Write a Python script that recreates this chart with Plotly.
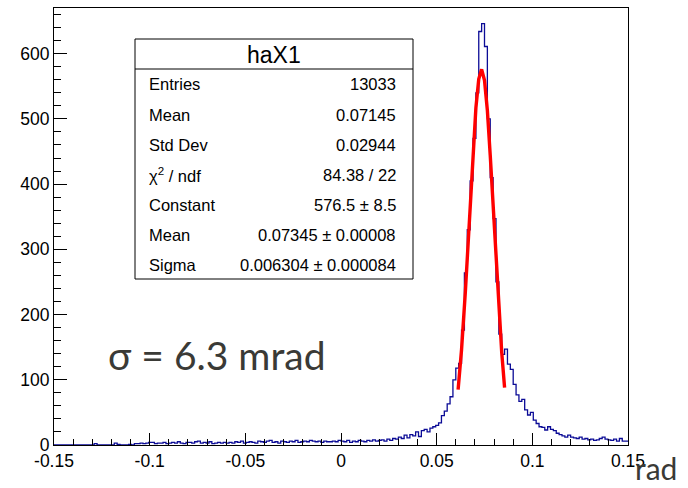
"""
ROOT-style histogram of haX1 with its Gaussian fit, redrawn with Plotly.
"""

import numpy as np
import plotly.graph_objects as go

# Histogram binning (200 bins over the axis range)
x_lo = -0.15
x_hi = 0.15
n_bins = 200

# Bin contents (left to right)
counts = [
    0, 0, 0, 0, 0, 0, 0, 0, 0, 0, 0, 0, 0, 0, 2, 0, 0, 0, 0, 0,
    0, 3, 1, 0, 0, 0, 1, 0, 2, 2, 3, 2, 3, 4, 4, 2, 3, 3, 4, 2,
    3, 4, 3, 5, 3, 2, 4, 4, 3, 5, 6, 3, 4, 3, 5, 2, 3, 4, 3, 4,
    3, 4, 3, 5, 4, 6, 3, 4, 5, 4, 3, 6, 5, 4, 6, 7, 4, 5, 3, 6,
    5, 4, 6, 5, 7, 4, 5, 6, 5, 7, 6, 5, 6, 4, 6, 5, 5, 6, 5, 7,
    6, 5, 7, 4, 6, 5, 7, 6, 5, 7, 6, 8, 6, 7, 8, 6, 9, 7, 10, 9,
    12, 10, 15, 11, 16, 14, 20, 13, 22, 24, 20, 26, 28, 30, 34, 45, 52, 63, 74, 100,
    118, 125, 176, 264, 330, 405, 470, 540, 634, 646, 611, 500, 410, 347, 250, 170, 139, 147, 124, 116,
    93, 77, 67, 70, 54, 46, 50, 38, 33, 28, 27, 23, 28, 24, 22, 18, 16, 14, 12, 15,
    12, 11, 10, 12, 9, 10, 8, 9, 7, 8, 10, 12, 9, 8, 7, 9, 6, 10, 6, 6,
]

# Gaussian fit curve as drawn
fit_x = [0.0612, 0.0630, 0.0650, 0.0670, 0.0690, 0.0705, 0.0720, 0.0735,
         0.0750, 0.0765, 0.0780, 0.0800, 0.0820, 0.0840, 0.0855]
fit_y = [85, 146, 235, 341, 449, 517, 561, 576,
         559, 513, 444, 336, 229, 142, 88]

# Axis ticks
x_tickvals = [-0.15, -0.1, -0.05, 0, 0.05, 0.1, 0.15]
x_ticktext = ["-0.15", "-0.1", "-0.05", "0", "0.05", "0.1", "0.15"]
y_tickvals = [0, 100, 200, 300, 400, 500, 600]
y_max = 670

# Stats box contents
stats_title = "haX1"
stats_names = ["Entries", "Mean", "Std Dev", "χ<sup>2</sup> / ndf", "Constant", "Mean", "Sigma"]
stats_values = ["13033", "0.07145", "0.02944", "84.38 / 22", "576.5 ± 8.5",
                "0.07345 ± 0.00008", "0.006304 ± 0.000084"]

# Page geometry (pixels)
W, H = 688, 488
M_L, M_R, M_T, M_B = 54, 60, 8, 43
PLOT_W = W - M_L - M_R
PLOT_H = H - M_T - M_B

ROOT_FONT = "Liberation Sans, Arial, sans-serif"
NOTE_FONT = "Lato, Open Sans, sans-serif"
NOTE_COLOR = "#3a3a36"


def px(x, y):
    """Convert page pixels to paper coordinates."""
    return (x - M_L) / PLOT_W, (H - M_B - y) / PLOT_H


edges = np.linspace(x_lo, x_hi, n_bins + 1)

fig = go.Figure()

fig.add_trace(
    go.Scatter(
        x=edges,
        y=counts + [counts[-1]],
        mode="lines",
        line={"color": "#0b0b96", "width": 1.3, "shape": "hv"},
        hoverinfo="skip",
        showlegend=False,
    )
)

fig.add_trace(
    go.Scatter(
        x=fit_x,
        y=fit_y,
        mode="lines",
        line={"color": "#ff0000", "width": 3.4},
        hoverinfo="skip",
        showlegend=False,
    )
)

# Stats box
bx0, by0 = px(135, 279)
bx1, by1 = px(413, 39)
_, sep_y = px(0, 69)
shapes = [
    {"type": "rect", "xref": "paper", "yref": "paper", "x0": bx0, "y0": by0, "x1": bx1, "y1": by1,
     "line": {"color": "black", "width": 1}, "fillcolor": "white", "layer": "above"},
    {"type": "line", "xref": "paper", "yref": "paper", "x0": bx0, "y0": sep_y, "x1": bx1, "y1": sep_y,
     "line": {"color": "black", "width": 1}, "layer": "above"},
]

annotations = []
tx, ty = px(274, 55)
annotations.append({"x": tx, "y": ty, "xref": "paper", "yref": "paper", "text": stats_title,
                    "showarrow": False, "font": {"family": ROOT_FONT, "size": 23, "color": "black"},
                    "xanchor": "center", "yanchor": "middle"})
row_y = [84, 115, 145, 175, 205, 235, 265]
for name, val, ry in zip(stats_names, stats_values, row_y):
    lx, ly = px(147, ry)
    rx, _ = px(398, ry)
    annotations.append({"x": lx, "y": ly, "xref": "paper", "yref": "paper", "text": name,
                        "showarrow": False, "font": {"family": ROOT_FONT, "size": 16.5, "color": "black"},
                        "xanchor": "left", "yanchor": "middle"})
    annotations.append({"x": rx, "y": ly, "xref": "paper", "yref": "paper", "text": val,
                        "showarrow": False, "font": {"family": ROOT_FONT, "size": 16.5, "color": "black"},
                        "xanchor": "right", "yanchor": "middle"})

# Slide annotations
sx, sy = px(106, 355)
annotations.append({"x": sx, "y": sy, "xref": "paper", "yref": "paper", "text": "σ = 6.3 mrad",
                    "showarrow": False, "font": {"family": NOTE_FONT, "size": 39, "color": NOTE_COLOR},
                    "xanchor": "left", "yanchor": "middle"})
rx, ry = px(634, 487)
annotations.append({"x": rx, "y": ry, "xref": "paper", "yref": "paper", "text": "rad",
                    "showarrow": False, "font": {"family": NOTE_FONT, "size": 30, "color": NOTE_COLOR},
                    "xanchor": "left", "yanchor": "bottom", "borderpad": 0})

fig.update_layout(
    width=W,
    height=H,
    margin={"l": M_L, "r": M_R, "t": M_T, "b": M_B, "pad": 0},
    paper_bgcolor="white",
    plot_bgcolor="white",
    shapes=shapes,
    annotations=annotations,
    font={"family": ROOT_FONT, "color": "black"},
)

fig.update_xaxes(
    range=[x_lo, x_hi],
    tickvals=x_tickvals,
    ticktext=x_ticktext,
    ticks="inside",
    ticklen=12,
    tickwidth=1,
    tickcolor="black",
    minor={"dtick": 0.01, "tick0": 0, "ticks": "inside", "ticklen": 6, "tickcolor": "black", "tickwidth": 1},
    showline=True,
    linecolor="black",
    linewidth=1,
    mirror=True,
    showgrid=False,
    zeroline=False,
    tickfont={"family": ROOT_FONT, "size": 17.5, "color": "black"},
)
fig.update_yaxes(
    range=[0, y_max],
    tickvals=y_tickvals,
    ticks="inside",
    ticklen=13,
    tickwidth=1,
    tickcolor="black",
    minor={"dtick": 20, "tick0": 0, "ticks": "inside", "ticklen": 7, "tickcolor": "black", "tickwidth": 1},
    showline=True,
    linecolor="black",
    linewidth=1,
    mirror=True,
    showgrid=False,
    zeroline=False,
    tickfont={"family": ROOT_FONT, "size": 17.5, "color": "black"},
)

# drop the page's default body margin so the figure sits at the window corner
fig.write_html(
    "out.html",
    config={"displayModeBar": False},
    post_script="document.body.style.margin = '0';",
)
